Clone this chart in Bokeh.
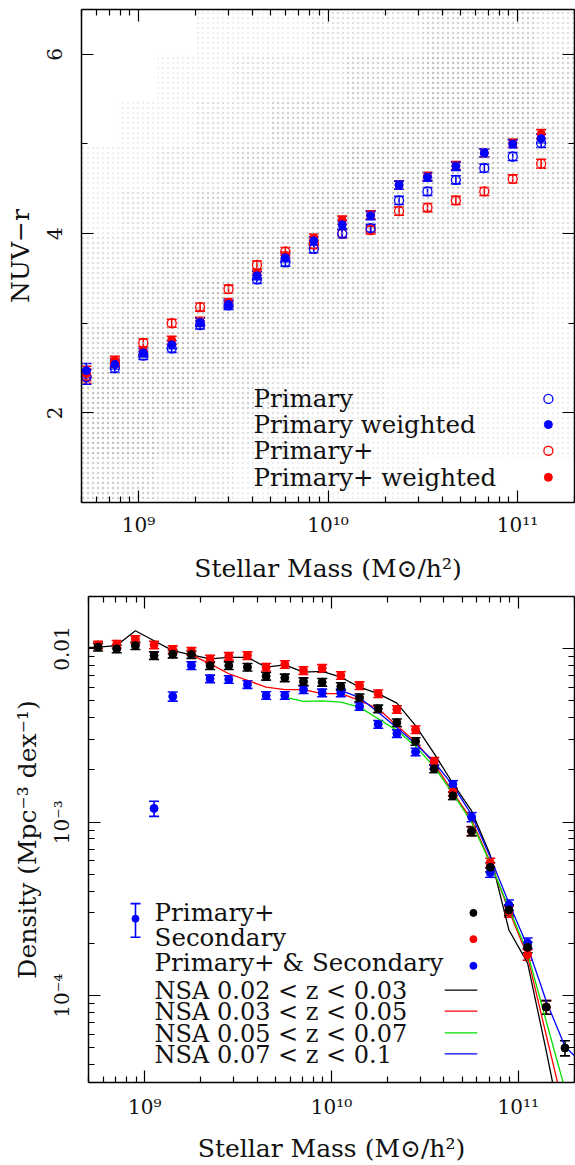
import math
from bokeh.plotting import figure
from bokeh.models import (ColumnDataSource, Whisker, TeeHead, FixedTicker, LogAxis, LinearAxis,
                          CustomJSTickFormatter, Label, Range1d)
from bokeh.layouts import column, row
from bokeh.embed import file_html
from bokeh.resources import INLINE

FONT = "DejaVu Serif"

# ---------------- top panel data ----------------
top_logm = [8.725, 8.875, 9.025, 9.175, 9.325, 9.475, 9.625, 9.775, 9.925, 10.075,
            10.225, 10.375, 10.525, 10.675, 10.825, 10.975, 11.125]
primary = [2.40, 2.50, 2.64, 2.72, 2.98, 3.20, 3.49, 3.68, 3.83, 4.00, 4.06, 4.37, 4.47, 4.60, 4.73, 4.86, 5.01]
primary_w = [2.47, 2.54, 2.67, 2.76, 3.01, 3.21, 3.53, 3.73, 3.92, 4.10, 4.20, 4.54, 4.63, 4.75, 4.90, 5.00, 5.06]
primaryp = [2.41, 2.56, 2.78, 3.00, 3.18, 3.38, 3.65, 3.80, 3.88, 4.00, 4.04, 4.25, 4.29, 4.37, 4.47, 4.61, 4.78]
primaryp_w = [2.44, 2.58, 2.69, 2.81, 3.02, 3.23, 3.55, 3.75, 3.95, 4.15, 4.21, 4.54, 4.64, 4.76, 4.90, 5.01, 5.11]
top_err = [0.08, 0.05, 0.045, 0.045, 0.045, 0.045, 0.045, 0.045, 0.045, 0.045,
           0.045, 0.045, 0.045, 0.045, 0.045, 0.045, 0.05]

# background galaxy cloud: estimated relative point density (0-5)
cloud_logm_edges = [8.7, 8.9, 9.1, 9.3, 9.5, 9.7, 9.9, 10.1, 10.3, 10.5, 10.7, 10.9, 11.1, 11.3]
cloud_col_edges = [6.5, 6.0, 5.5, 5.0, 4.5, 4.0, 3.5, 3.0, 2.5, 2.0, 1.5, 1.0]
cloud_density = [
    [0, 0, 0, 1, 1, 1, 2, 2, 2, 3, 3, 3, 2],
    [0, 0, 1, 1, 2, 2, 2, 3, 3, 4, 4, 4, 3],
    [0, 1, 1, 2, 2, 3, 3, 3, 4, 4, 4, 4, 3],
    [1, 1, 2, 2, 3, 3, 3, 4, 4, 4, 4, 3, 3],
    [1, 2, 2, 3, 3, 3, 4, 4, 4, 3, 3, 3, 2],
    [2, 2, 3, 3, 4, 4, 4, 3, 3, 3, 2, 2, 2],
    [2, 3, 3, 4, 4, 3, 3, 3, 2, 2, 2, 2, 1],
    [3, 4, 4, 4, 3, 3, 2, 2, 2, 2, 1, 1, 1],
    [4, 4, 4, 3, 3, 2, 2, 2, 1, 1, 1, 1, 1],
    [4, 4, 3, 3, 2, 2, 1, 1, 1, 1, 1, 1, 1],
    [3, 3, 2, 2, 1, 1, 1, 1, 1, 0, 0, 0, 0],
]

top_legend = ["Primary", "Primary weighted", "Primary+", "Primary+ weighted"]

# ---------------- bottom panel data ----------------
NaN = float("nan")
bot_logm = [8.75, 8.85, 8.95, 9.05, 9.15, 9.25, 9.35, 9.45, 9.55, 9.65, 9.75, 9.85, 9.95,
            10.05, 10.15, 10.25, 10.35, 10.45, 10.55, 10.65, 10.75, 10.85, 10.95, 11.05, 11.15, 11.25]
dens_primp = [0.0102, 0.00996, 0.0104, 0.00912, 0.0093, 0.00924, 0.00798, 0.00798, 0.00781, 0.00693,
              0.00679, 0.00646, 0.0064, 0.00605, 0.00521, 0.0045, 0.00374, 0.00292, 0.00203, 0.00142,
              0.000887, 0.00055, 3.12e-4, 1.90e-4, 8.6e-5, 5.0e-5]
dens_second = [0.0105, 0.0106, 0.01127, 0.0105, 0.00987, 0.00965, 0.00872, 0.00903, 0.00912, 0.00781,
               0.0081, 0.00748, 0.0077, 0.0070, 0.00612, 0.0055, 0.00446, 0.00341, 0.00224, 0.00149,
               0.00089, 0.000584, 3.05e-4, 1.72e-4, 8.6e-5, NaN]
dens_both = [NaN, NaN, NaN, 0.0012, 0.0053, 0.00798, 0.0067, 0.00664, 0.00621, 0.00537,
             0.00537, 0.0058, 0.00556, 0.00556, 0.00464, 0.00366, 0.00324, 0.00254, 0.00213, 0.00165,
             0.00107, 0.000512, 3.33e-4, 2.01e-4, NaN, NaN]
rel_err_primp = [0.05] * 20 + [0.06, 0.06, 0.07, 0.07, 0.09, 0.10]
rel_err_second = [0.05] * 20 + [0.06, 0.06, 0.07, 0.07, 0.09, 0.10]
rel_err_both = [0.1, 0.1, 0.1, 0.10, 0.06] + [0.05] * 15 + [0.06, 0.06, 0.07, 0.07, 0.09, 0.10]

nsa_logm = [8.65] + bot_logm + [11.35]
nsa_002_003 = [0.0101, 0.0102, 0.0104, 0.01267, 0.0111, 0.00974, 0.0092, 0.00873, 0.0089, 0.0089,
               0.00781, 0.00806, 0.00731, 0.00738, 0.00684, 0.006, 0.0055, 0.00485, 0.0036, 0.00248,
               0.00167, 0.00116, 6.46e-4, 2.39e-4, 1.54e-4, 4.8e-5, 1.4e-5, NaN]
nsa_003_005 = [NaN, NaN, NaN, NaN, NaN, NaN, 0.0092, 0.00817, 0.00716, 0.00655,
               0.006, 0.0058, 0.0058, 0.0055, 0.0055, 0.00503, 0.0045, 0.0036, 0.0029, 0.00217,
               0.00149, 0.00103, 5.9e-4, 3.1e-4, 1.68e-4, 5.9e-5, 2.1e-5, NaN]
nsa_005_007 = [NaN, NaN, NaN, NaN, NaN, NaN, NaN, NaN, NaN, NaN,
               NaN, 0.00525, 0.00496, 0.0050, 0.00491, 0.0046, 0.00394, 0.00338, 0.00274, 0.00208,
               0.00146, 0.0010, 5.8e-4, 3.19e-4, 1.76e-4, 7.1e-5, 2.9e-5, NaN]
nsa_007_010 = [NaN, NaN, NaN, NaN, NaN, NaN, NaN, NaN, NaN, NaN,
               NaN, NaN, NaN, NaN, 0.00574, 0.00521, 0.0043, 0.0035, 0.00283, 0.00222,
               0.00163, 0.0011, 6.3e-4, 3.41e-4, 1.92e-4, 9.3e-5, 5.1e-5, 4.0e-5]

bot_points_legend = ["Primary+", "Secondary", "Primary+ & Secondary"]
bot_lines_legend = ["NSA 0.02 < z < 0.03", "NSA 0.03 < z < 0.05", "NSA 0.05 < z < 0.07", "NSA 0.07 < z < 0.1"]

BLUE, RED, GREEN, BLACK = "#0000ff", "#ff0000", "#00e000", "#000000"

# ---------------- helpers ----------------
SUP_JS = """
const e = Math.round(Math.log10(tick));
if (e == -2) { return "0.01"; }
const s = {"-":"\u207b","0":"\u2070","1":"\u00b9","2":"\u00b2","3":"\u00b3","4":"\u2074",
           "5":"\u2075","6":"\u2076","7":"\u2077","8":"\u2078","9":"\u2079"};
return "10" + String(e).split("").map(c => s[c]).join("");
"""
BLANK_JS = 'return " ";'


def decade_ticks(lo, hi):
    major = [10.0 ** e for e in range(lo, hi + 1)]
    minor = [m * 10.0 ** e for e in range(lo - 1, hi + 1) for m in range(2, 10)]
    return major, minor


def style_axis(ax, labels=True):
    ax.axis_line_color = "black"
    ax.axis_line_width = 1.5
    ax.major_tick_line_color = "black"
    ax.minor_tick_line_color = "black"
    ax.major_tick_line_width = 1.2
    ax.minor_tick_line_width = 1.2
    ax.major_tick_in = 12
    ax.major_tick_out = 0
    ax.minor_tick_in = 6
    ax.minor_tick_out = 0
    ax.major_label_text_font = FONT
    ax.major_label_text_color = "#111111"
    ax.axis_label_text_font = FONT
    ax.axis_label_text_font_style = "normal"
    ax.axis_label_text_font_size = "25px"
    ax.axis_label_text_color = "#111111"
    if labels:
        ax.major_label_text_font_size = "20px"
    else:
        ax.formatter = CustomJSTickFormatter(code=BLANK_JS)
        ax.major_label_text_font_size = "1px"
        ax.major_label_text_alpha = 0
        ax.major_label_standoff = 0


def make_fig(height, xr, yr, ylog, borders):
    p = figure(width=575, height=height, x_axis_type="log", y_axis_type="log" if ylog else "linear",
               x_range=Range1d(*xr), y_range=Range1d(*yr), toolbar_location=None,
               output_backend="svg", min_border_left=borders[0], min_border_right=borders[1],
               min_border_top=borders[2], min_border_bottom=borders[3])
    p.xgrid.visible = False
    p.ygrid.visible = False
    p.outline_line_color = None
    p.background_fill_color = "white"
    return p


def err_bars(p, xs, ys, lo, hi, color):
    src = ColumnDataSource(dict(x=xs, lo=lo, hi=hi))
    w = Whisker(source=src, base="x", lower="lo", upper="hi", dimension="height",
                line_color=color, line_width=1.6,
                upper_head=TeeHead(size=10, line_color=color, line_width=1.6),
                lower_head=TeeHead(size=10, line_color=color, line_width=1.6))
    p.add_layout(w)


# ---------------- top figure ----------------
TOP_X = (5e8, 2e11)
TOP_Y = (1.0, 6.5)
p1 = make_fig(585, TOP_X, TOP_Y, False, (81, 1, 9, 83))


def fx_top(f):
    a, b = math.log10(TOP_X[0]), math.log10(TOP_X[1])
    return 10 ** (a + f * (b - a))


def fy_top(f):
    return TOP_Y[0] + f * (TOP_Y[1] - TOP_Y[0])


# cloud
L, R, B, T, A = [], [], [], [], []
for i, rw in enumerate(cloud_density):
    for j, d in enumerate(rw):
        if d <= 0:
            continue
        L.append(10 ** cloud_logm_edges[j]); R.append(10 ** cloud_logm_edges[j + 1])
        T.append(cloud_col_edges[i]); B.append(cloud_col_edges[i + 1]); A.append(min(1.0, 0.18 * d))
p1.quad(left=L, right=R, bottom=B, top=T, fill_color=None, line_color=None,
        hatch_pattern="dot", hatch_color="#a8a8a8", hatch_alpha=A, hatch_scale=5, hatch_weight=1)

mx = [10 ** v for v in top_logm]
for ys, color, filled in [(primaryp, RED, False), (primary, BLUE, False),
                          (primaryp_w, RED, True), (primary_w, BLUE, True)]:
    err_bars(p1, mx, ys, [y - e for y, e in zip(ys, top_err)], [y + e for y, e in zip(ys, top_err)], color)
    if filled:
        p1.scatter(mx, ys, size=8, marker="circle", fill_color=color, line_color=color)
    else:
        p1.scatter(mx, ys, size=9, marker="circle", fill_color=None, line_color=color, line_width=1.3)

# top legend
leg_rows = [0.210, 0.158, 0.105, 0.051]
for txt, fy, color, filled in zip(top_legend, leg_rows, [BLUE, BLUE, RED, RED], [False, True, False, True]):
    p1.add_layout(Label(x=fx_top(0.349), y=fy_top(fy), text=txt, text_font=FONT, text_font_size="24.5px",
                        text_baseline="middle", text_align="left", text_color="#111111"))
    if filled:
        p1.scatter([fx_top(0.947)], [fy_top(fy)], size=8, fill_color=color, line_color=color)
    else:
        p1.scatter([fx_top(0.947)], [fy_top(fy)], size=9, fill_color=None, line_color=color, line_width=1.3)

xmaj, xmin = decade_ticks(9, 11)
p1.xaxis.ticker = FixedTicker(ticks=xmaj, minor_ticks=xmin)
p1.xaxis.formatter = CustomJSTickFormatter(code=SUP_JS)
p1.xaxis.axis_label = "Stellar Mass (M\u2299/h\u00b2)"
p1.yaxis.ticker = FixedTicker(ticks=[2, 4, 6], minor_ticks=[1, 3, 5])
p1.yaxis.axis_label = "NUV\u2212r"
for ax in p1.xaxis + p1.yaxis:
    style_axis(ax)
p1.yaxis.major_label_orientation = "parallel"
p1.xaxis.major_label_standoff = 10
p1.xaxis.axis_label_standoff = 14
p1.yaxis.major_label_standoff = 19
p1.yaxis.axis_label_standoff = 10
top_ax = LogAxis(ticker=FixedTicker(ticks=xmaj, minor_ticks=xmin))
right_ax = LinearAxis(ticker=FixedTicker(ticks=[2, 4, 6], minor_ticks=[1, 3, 5]))
for ax in (top_ax, right_ax):
    style_axis(ax, labels=False)
p1.add_layout(top_ax, "above")
p1.add_layout(right_ax, "right")

# ---------------- bottom figure ----------------
BOT_X = (5e8, 2e11)
BOT_Y = (10 ** -4.5, 10 ** -1.7)
p2 = make_fig(580, BOT_X, BOT_Y, True, (88, 1, 11, 83))


def fy_bot(f):
    a, b = math.log10(BOT_Y[0]), math.log10(BOT_Y[1])
    return 10 ** (a + f * (b - a))


# NSA lines
for ys, color in [(nsa_002_003, BLACK), (nsa_003_005, RED), (nsa_005_007, GREEN), (nsa_007_010, BLUE)]:
    xs = [10 ** v for v, y in zip(nsa_logm, ys) if not math.isnan(y)]
    yy = [y for y in ys if not math.isnan(y)]
    p2.line(xs, yy, line_color=color, line_width=1.3)

for ys, rel, color in [(dens_both, rel_err_both, BLUE), (dens_second, rel_err_second, RED),
                       (dens_primp, rel_err_primp, BLACK)]:
    xs = [10 ** v for v, y in zip(bot_logm, ys) if not math.isnan(y)]
    yy = [y for y in ys if not math.isnan(y)]
    rr = [r for r, y in zip(rel, ys) if not math.isnan(y)]
    err_bars(p2, xs, yy, [y * (1 - r) for y, r in zip(yy, rr)], [y * (1 + r) for y, r in zip(yy, rr)], color)
    p2.scatter(xs, yy, size=8, fill_color=color, line_color=color)

# bottom legend
pt_rows = [0.350, 0.299, 0.2475]
pt_mark_rows = [0.349, 0.295, 0.240]
for txt, fy, fm, color in zip(bot_points_legend, pt_rows, pt_mark_rows, [BLACK, RED, BLUE]):
    p2.add_layout(Label(x=fx_top(0.136), y=fy_bot(fy), text=txt, text_font=FONT, text_font_size="24.5px",
                        text_baseline="middle", text_align="left", text_color="#111111"))
    p2.scatter([fx_top(0.792)], [fy_bot(fm)], size=7, fill_color=color, line_color=color)
ln_rows = [0.188, 0.145, 0.100, 0.057]
for txt, fy, color in zip(bot_lines_legend, ln_rows, [BLACK, RED, GREEN, BLUE]):
    p2.add_layout(Label(x=fx_top(0.136), y=fy_bot(fy), text=txt, text_font=FONT, text_font_size="24px",
                        text_baseline="middle", text_align="left", text_color="#111111"))
    p2.line([fx_top(0.733), fx_top(0.800)], [fy_bot(fy + 0.002), fy_bot(fy + 0.002)], line_color=color, line_width=1.3)
# sample error bar
err_bars(p2, [fx_top(0.0967)], [fy_bot(0.337)], [fy_bot(0.299)], [fy_bot(0.368)], BLUE)
p2.scatter([fx_top(0.0967)], [fy_bot(0.337)], size=7, fill_color=BLUE, line_color=BLUE)

ymaj, ymin = decade_ticks(-4, -2)
p2.xaxis.ticker = FixedTicker(ticks=xmaj, minor_ticks=xmin)
p2.xaxis.formatter = CustomJSTickFormatter(code=SUP_JS)
p2.xaxis.axis_label = "Stellar Mass (M\u2299/h\u00b2)"
p2.yaxis.ticker = FixedTicker(ticks=ymaj, minor_ticks=ymin)
p2.yaxis.formatter = CustomJSTickFormatter(code=SUP_JS)
p2.yaxis.axis_label = "Density (Mpc\u207b\u00b3 dex\u207b\u00b9)"
for ax in p2.xaxis + p2.yaxis:
    style_axis(ax)
p2.yaxis.major_label_orientation = "parallel"
p2.xaxis.major_label_standoff = 12
p2.xaxis.axis_label_standoff = 12
p2.yaxis.major_label_standoff = 14
p2.yaxis.axis_label_standoff = 6
top_ax2 = LogAxis(ticker=FixedTicker(ticks=xmaj, minor_ticks=xmin))
right_ax2 = LogAxis(ticker=FixedTicker(ticks=ymaj, minor_ticks=ymin))
for ax in (top_ax2, right_ax2):
    style_axis(ax, labels=False)
p2.add_layout(top_ax2, "above")
p2.add_layout(right_ax2, "right")

layout = column(row(p1), row(p2), spacing=0)
open("out.html", "w").write(file_html(layout, INLINE))
